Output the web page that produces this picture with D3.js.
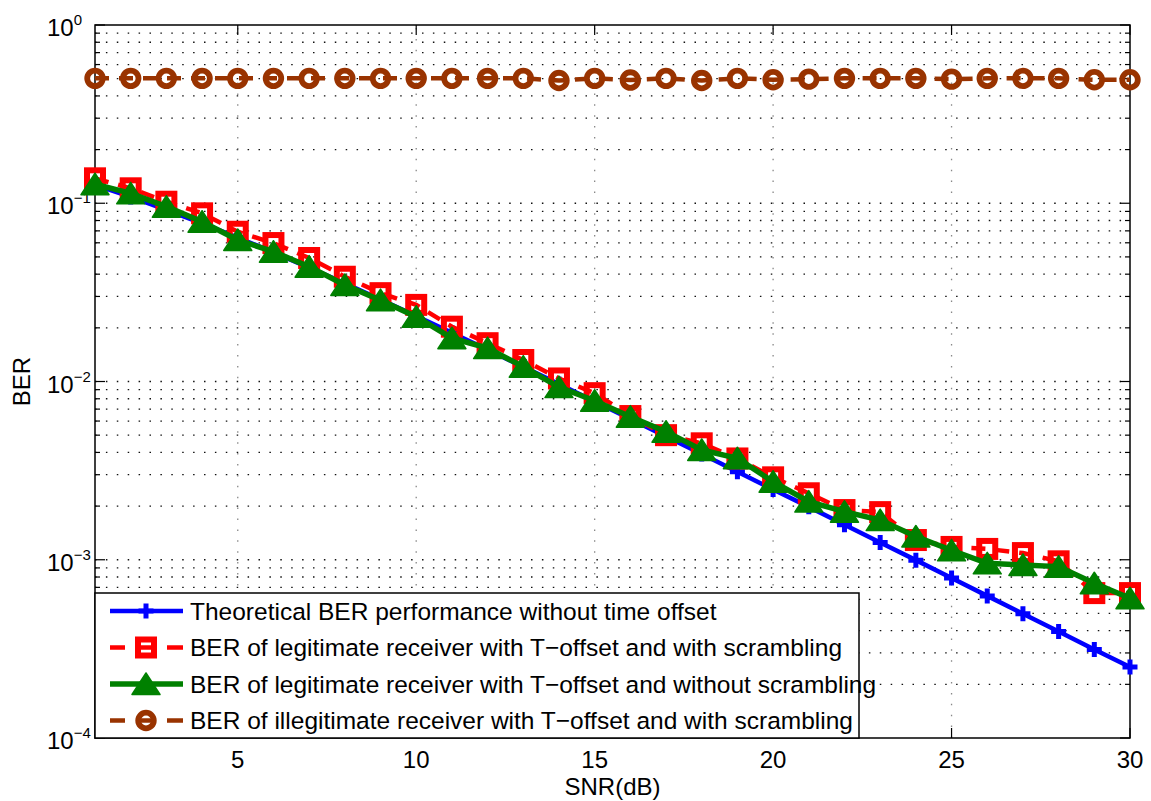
<!DOCTYPE html>
<head>
    <meta charset="utf-8"/>
    <script src="https://d3js.org/d3.v7.min.js"></script>
    <style>
        body { margin: 0; background: #fff; }
        text { font-family: "Liberation Sans", Arial, sans-serif; fill: #000; }
    </style>
</head>
<body>
<script>
    // valeurs
    var snr = [1, 2, 3, 4, 5, 6, 7, 8, 9, 10, 11, 12, 13, 14, 15,
               16, 17, 18, 19, 20, 21, 22, 23, 24, 25, 26, 27, 28, 29, 30];

    var berTheory = [0.1267, 0.1085, 0.0919, 0.0771, 0.0642, 0.0530, 0.0435, 0.0355, 0.0288, 0.0233,
                     0.01875, 0.01506, 0.01208, 0.00967, 0.00772, 0.00617, 0.00492, 0.00392, 0.00312, 0.00248,
                     0.00198, 0.00157, 0.00125, 0.000995, 0.000789, 0.000627, 0.000498, 0.000396, 0.000314, 0.00025];

    var berScrambling = [0.138, 0.1213, 0.102, 0.0878, 0.0692, 0.0598, 0.0493, 0.0387, 0.0313, 0.0269,
                         0.0203, 0.0164, 0.0132, 0.0104, 0.0086, 0.0064, 0.0050, 0.0045, 0.0037, 0.0029,
                         0.00236, 0.0019, 0.00185, 0.00129, 0.00118, 0.00115, 0.00109, 0.00098, 0.00065, 0.00065];

    var berNoScrambling = [0.128, 0.1137, 0.0957, 0.0788, 0.0622, 0.0535, 0.0441, 0.0348, 0.0286, 0.0231,
                           0.0175, 0.0154, 0.0121, 0.0093, 0.0078, 0.00635, 0.00523, 0.00413, 0.00371, 0.00274,
                           0.00212, 0.00186, 0.00167, 0.00135, 0.00113, 0.000955, 0.000935, 0.000915, 0.000738, 0.000608];

    var berIllegitimate = [0.502, 0.502, 0.502, 0.502, 0.502, 0.502, 0.502, 0.502, 0.502, 0.502,
                           0.502, 0.502, 0.502, 0.488, 0.502, 0.491, 0.502, 0.488, 0.502, 0.493,
                           0.497, 0.502, 0.502, 0.502, 0.497, 0.502, 0.502, 0.502, 0.493, 0.493];

    var xTicks = [5, 10, 15, 20, 25, 30];
    var yDecades = [0, -1, -2, -3, -4];

    var legendLabels = [
        "Theoretical BER performance without time offset",
        "BER of legitimate receiver with T\u2212offset and with scrambling",
        "BER of legitimate receiver with T\u2212offset and without scrambling",
        "BER of illegitimate receiver with T\u2212offset and with scrambling"
    ];

    var width = 1151,
        height = 801;

    // zone du trace (attention : "top" est reserve par window)
    var pLeft = 95, pRight = 1130, pTop = 25, pBottom = 738;

    var svg = d3.select("body").append("svg")
        .attr("width", width)
        .attr("height", height);

    var x = d3.scaleLinear().domain([1, 30]).range([pLeft, pRight]);
    var y = d3.scaleLog().domain([1e-4, 1]).range([pBottom, pTop]);

    // grille
    var grid = svg.append("g");
    var minor = y.ticks().filter(function (v) { return v > 1e-4 * 1.001 && v < 0.999; });
    grid.selectAll(".hg").data(minor).join("line")
        .attr("x1", pLeft).attr("x2", pRight)
        .attr("y1", function (d) { return y(d); }).attr("y2", function (d) { return y(d); })
        .attr("stroke", "#111").attr("stroke-width", 1.3)
        .attr("stroke-dasharray", "1.5,9.4");
    grid.selectAll(".vg").data(xTicks.filter(function (d) { return d < 30; })).join("line")
        .attr("x1", function (d) { return x(d); }).attr("x2", function (d) { return x(d); })
        .attr("y1", pBottom).attr("y2", pTop)
        .attr("stroke", "#888").attr("stroke-width", 1.3)
        .attr("stroke-dasharray", "1.5,9.4");

    // cadre + graduations
    svg.append("rect")
        .attr("x", pLeft).attr("y", pTop)
        .attr("width", pRight - pLeft).attr("height", pBottom - pTop)
        .attr("fill", "none").attr("stroke", "#000").attr("stroke-width", 1.5);

    var ticks = svg.append("g").attr("stroke", "#000").attr("stroke-width", 1.2);
    xTicks.forEach(function (t) {
        ticks.append("line").attr("x1", x(t)).attr("x2", x(t)).attr("y1", pBottom).attr("y2", pBottom - 10);
        ticks.append("line").attr("x1", x(t)).attr("x2", x(t)).attr("y1", pTop).attr("y2", pTop + 10);
    });
    y.ticks().forEach(function (v) {
        var major = Math.abs(Math.log10(v) - Math.round(Math.log10(v))) < 1e-6;
        var len = major ? 10 : 5;
        ticks.append("line").attr("x1", pLeft).attr("x2", pLeft + len).attr("y1", y(v)).attr("y2", y(v));
        ticks.append("line").attr("x1", pRight).attr("x2", pRight - len).attr("y1", y(v)).attr("y2", y(v));
    });

    svg.selectAll(".xl").data(xTicks).join("text")
        .attr("x", function (d) { return x(d); })
        .attr("y", 768)
        .attr("text-anchor", "middle")
        .style("font-size", "24px")
        .text(function (d) { return d; });

    yDecades.forEach(function (e) {
        var t = svg.append("text")
            .attr("x", 47)
            .attr("y", y(Math.pow(10, e)) + 11)
            .style("font-size", "24px");
        t.append("tspan").text("10");
        t.append("tspan").attr("dy", -11).style("font-size", "15px")
            .text(e < 0 ? "\u2212" + (-e) : e);
    });

    svg.append("text")
        .attr("x", (pLeft + pRight) / 2).attr("y", 795)
        .attr("text-anchor", "middle")
        .style("font-size", "24px")
        .text("SNR(dB)");

    svg.append("text")
        .attr("transform", "translate(30," + ((pTop + pBottom) / 2) + ") rotate(-90)")
        .attr("text-anchor", "middle")
        .style("font-size", "24px")
        .text("BER");

    // series
    var series = [
        {values: berTheory, color: "#0000ff", width: 4.5, dash: null, marker: "plus"},
        {values: berScrambling, color: "#ff0000", width: 4.5, dash: "14,10", marker: "square"},
        {values: berNoScrambling, color: "#008000", width: 5.5, dash: null, marker: "triangle"},
        {values: berIllegitimate, color: "#993300", width: 4.5, dash: "14,10", marker: "circle"}
    ];

    function drawMarker(g, type, color, cx, cy) {
        if (type == "plus") {
            g.append("path")
                .attr("d", "M" + (cx - 7.5) + "," + cy + "H" + (cx + 7.5) + "M" + cx + "," + (cy - 7.5) + "V" + (cy + 7.5))
                .attr("stroke", color).attr("stroke-width", 5).attr("fill", "none");
        } else if (type == "square") {
            g.append("rect")
                .attr("x", cx - 8).attr("y", cy - 8).attr("width", 16).attr("height", 16)
                .attr("fill", "none").attr("stroke", color).attr("stroke-width", 6);
        } else if (type == "triangle") {
            g.append("path")
                .attr("d", "M" + cx + "," + (cy - 11) + "L" + (cx + 14) + "," + (cy + 10.5) + "L" + (cx - 14) + "," + (cy + 10.5) + "Z")
                .attr("fill", color).attr("stroke", color).attr("stroke-width", 1.5)
                .attr("stroke-linejoin", "round");
        } else {
            g.append("circle")
                .attr("cx", cx).attr("cy", cy).attr("r", 7.8)
                .attr("fill", "none").attr("stroke", color).attr("stroke-width", 5.8);
        }
    }

    var line = d3.line()
        .x(function (d) { return x(d[0]); })
        .y(function (d) { return y(d[1]); });

    series.forEach(function (s) {
        var pts = snr.map(function (v, i) { return [v, s.values[i]]; });
        var g = svg.append("g");
        g.append("path")
            .attr("d", line(pts))
            .attr("fill", "none")
            .attr("stroke", s.color)
            .attr("stroke-width", s.width)
            .attr("stroke-dasharray", s.dash);
        pts.forEach(function (p) {
            drawMarker(g, s.marker, s.color, x(p[0]), y(p[1]));
        });
    });

    // legende
    var lg = svg.append("g");
    lg.append("rect")
        .attr("x", pLeft).attr("y", 593)
        .attr("width", 859 - pLeft).attr("height", pBottom - 593)
        .attr("fill", "#fff").attr("stroke", "#000").attr("stroke-width", 1.5);

    series.forEach(function (s, i) {
        var cy = 611 + i * 36.5;
        lg.append("line")
            .attr("x1", 110).attr("x2", 183).attr("y1", cy).attr("y2", cy)
            .attr("stroke", s.color).attr("stroke-width", s.width)
            .attr("stroke-dasharray", s.dash ? "15,11,20,11,16" : null);
        drawMarker(lg, s.marker, s.color, 146, cy);
        lg.append("text")
            .attr("x", 190).attr("y", cy + 8.5)
            .style("font-size", "24.5px")
            .text(legendLabels[i]);
    });
</script>
</body>
